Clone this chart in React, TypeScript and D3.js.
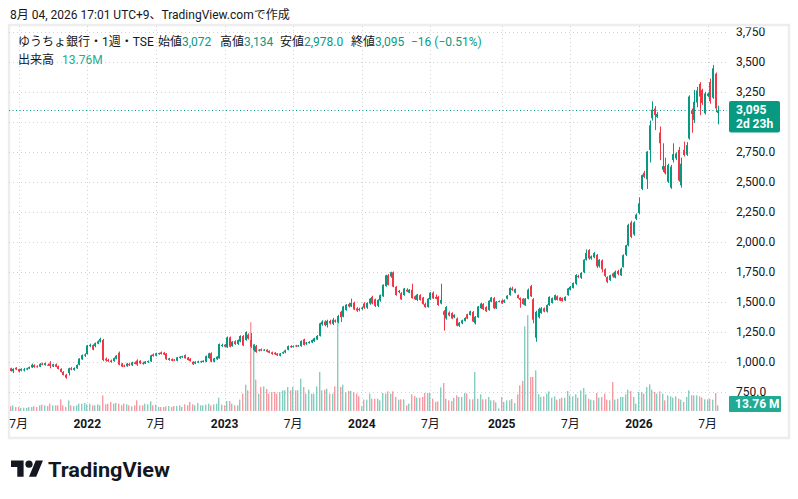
import React from 'react';
import * as d3 from 'd3';

// weekly bars, first bar is the week of 2021-06-14
const firstWeek = '2021-06-14';

// [open, high, low, close]
const candles: [number, number, number, number][] = [
  [945, 950, 918, 923], [920, 945, 905, 940], [950, 955, 930, 935], [938, 942, 910, 918],
  [925, 945, 920, 940], [932, 948, 918, 936], [935, 950, 930, 945], [943, 960, 938, 955],
  [952, 985, 948, 975], [972, 978, 950, 955], [962, 970, 952, 958], [958, 988, 955, 982],
  [985, 992, 970, 975], [972, 992, 968, 988], [975, 985, 965, 970], [985, 1005, 945, 965],
  [960, 982, 955, 978], [978, 985, 955, 958], [962, 968, 935, 940], [940, 945, 910, 915],
  [915, 920, 885, 890], [892, 898, 858, 866], [905, 950, 885, 945], [945, 955, 928, 935],
  [932, 952, 925, 948], [945, 978, 940, 972], [975, 1030, 970, 1025], [1020, 1060, 1015, 1055],
  [1050, 1070, 1040, 1060], [1065, 1140, 1060, 1135], [1130, 1150, 1120, 1140], [1138, 1145, 1095, 1100],
  [1130, 1160, 1120, 1155], [1150, 1178, 1145, 1170], [1168, 1200, 1160, 1190], [1180, 1190, 1005, 1015],
  [1025, 1035, 1000, 1010], [1015, 1025, 998, 1005], [1010, 1018, 990, 998], [1005, 1035, 1000, 1030],
  [1025, 1055, 1020, 1050], [1075, 1085, 970, 975], [985, 990, 955, 960], [968, 975, 955, 962],
  [962, 990, 958, 985], [980, 988, 965, 970], [970, 1000, 965, 995], [995, 1002, 978, 982],
  [1010, 1020, 965, 975], [1008, 1012, 980, 986], [990, 1000, 975, 982], [984, 1005, 980, 1002],
  [995, 1010, 990, 1006], [1002, 1058, 998, 1053], [1061, 1068, 1042, 1047], [1050, 1075, 1045, 1070],
  [1064, 1075, 1058, 1071], [1078, 1085, 1060, 1064], [1075, 1080, 1055, 1060], [1068, 1072, 1015, 1020],
  [1015, 1032, 1008, 1028], [1022, 1028, 1004, 1008], [1018, 1022, 1005, 1010], [1008, 1040, 1004, 1036],
  [1030, 1046, 1025, 1042], [1038, 1050, 1032, 1045], [1055, 1060, 1025, 1028], [1035, 1040, 1010, 1014],
  [1025, 1030, 1000, 1005], [1000, 1003, 972, 978], [985, 1003, 980, 1000], [992, 1008, 988, 1003],
  [996, 1008, 992, 1003], [998, 1012, 994, 1008], [1000, 1052, 996, 1047], [1030, 1075, 1025, 1070],
  [1070, 1078, 995, 1000], [1000, 1032, 995, 1028], [1020, 1046, 1015, 1042], [1028, 1152, 1025, 1147],
  [1130, 1150, 1122, 1140], [1142, 1148, 1118, 1125], [1120, 1210, 1115, 1203], [1203, 1210, 1120, 1125],
  [1130, 1172, 1125, 1167], [1170, 1178, 1140, 1147], [1148, 1185, 1140, 1180], [1168, 1220, 1162, 1214],
  [1214, 1222, 1130, 1136], [1180, 1253, 1175, 1247], [1225, 1235, 1185, 1192], [1180, 1240, 1115, 1125],
  [1097, 1145, 1085, 1139], [1130, 1140, 1075, 1080], [1092, 1105, 1085, 1100], [1103, 1110, 1088, 1092],
  [1095, 1105, 1090, 1100], [1100, 1104, 1078, 1083], [1090, 1094, 1070, 1075], [1078, 1084, 1058, 1064],
  [1075, 1080, 1056, 1062], [1068, 1072, 1048, 1053], [1050, 1072, 1045, 1068], [1070, 1085, 1065, 1080],
  [1078, 1100, 1070, 1095], [1100, 1135, 1095, 1130], [1130, 1138, 1115, 1120], [1122, 1135, 1118, 1130],
  [1135, 1140, 1122, 1128], [1128, 1140, 1124, 1135], [1130, 1178, 1125, 1172], [1186, 1192, 1135, 1140],
  [1150, 1165, 1140, 1160], [1155, 1172, 1150, 1165], [1160, 1185, 1155, 1180], [1170, 1200, 1165, 1195],
  [1185, 1222, 1180, 1215], [1215, 1325, 1210, 1320], [1310, 1345, 1300, 1335], [1335, 1345, 1295, 1305],
  [1305, 1350, 1285, 1340], [1340, 1350, 1310, 1320], [1315, 1365, 1305, 1350], [1345, 1352, 1325, 1333],
  [1330, 1390, 1320, 1380], [1415, 1425, 1330, 1370], [1375, 1465, 1370, 1460], [1430, 1480, 1425, 1475],
  [1480, 1490, 1450, 1460], [1460, 1525, 1455, 1490], [1490, 1500, 1430, 1435], [1445, 1455, 1415, 1425],
  [1440, 1450, 1420, 1430], [1440, 1458, 1430, 1450], [1485, 1495, 1440, 1450], [1450, 1495, 1440, 1490],
  [1485, 1530, 1475, 1525], [1540, 1550, 1478, 1485], [1520, 1525, 1455, 1465], [1465, 1520, 1455, 1515],
  [1510, 1560, 1500, 1555], [1545, 1645, 1540, 1640], [1630, 1725, 1625, 1720], [1720, 1730, 1635, 1640],
  [1710, 1750, 1700, 1745], [1745, 1752, 1620, 1625], [1625, 1630, 1550, 1555], [1580, 1598, 1570, 1590],
  [1570, 1580, 1515, 1520], [1555, 1615, 1550, 1610], [1600, 1612, 1580, 1585], [1575, 1605, 1570, 1600],
  [1600, 1650, 1525, 1530], [1545, 1552, 1515, 1520], [1515, 1565, 1505, 1560], [1555, 1562, 1510, 1515],
  [1535, 1540, 1475, 1480], [1480, 1490, 1450, 1455], [1455, 1530, 1450, 1525], [1520, 1580, 1515, 1575],
  [1575, 1585, 1522, 1528], [1540, 1560, 1520, 1525], [1540, 1548, 1465, 1472], [1485, 1650, 1478, 1515],
  [1420, 1430, 1260, 1390], [1360, 1465, 1350, 1455], [1410, 1420, 1378, 1385], [1405, 1412, 1355, 1360],
  [1370, 1395, 1362, 1390], [1360, 1368, 1295, 1300], [1300, 1330, 1290, 1325], [1320, 1350, 1312, 1345],
  [1340, 1370, 1335, 1365], [1395, 1400, 1355, 1360], [1390, 1425, 1385, 1420], [1415, 1422, 1330, 1335],
  [1320, 1380, 1310, 1375], [1370, 1465, 1365, 1460], [1445, 1490, 1440, 1485], [1480, 1488, 1430, 1437],
  [1455, 1462, 1415, 1420], [1430, 1512, 1425, 1508], [1500, 1540, 1495, 1535], [1530, 1538, 1440, 1445],
  [1445, 1505, 1440, 1500], [1500, 1510, 1495, 1505], [1510, 1520, 1480, 1485], [1495, 1518, 1490, 1512],
  [1525, 1555, 1520, 1550], [1555, 1620, 1550, 1615], [1610, 1625, 1590, 1598], [1575, 1610, 1570, 1605],
  [1555, 1560, 1525, 1530], [1530, 1535, 1450, 1515], [1525, 1530, 1475, 1480], [1470, 1530, 1465, 1525],
  [1525, 1610, 1520, 1600], [1630, 1640, 1540, 1545], [1520, 1530, 1320, 1350], [1200, 1425, 1166, 1415],
  [1370, 1450, 1360, 1440], [1405, 1455, 1400, 1445], [1445, 1452, 1412, 1418], [1418, 1478, 1410, 1472],
  [1472, 1545, 1465, 1540], [1490, 1535, 1485, 1530], [1515, 1560, 1510, 1555], [1545, 1552, 1510, 1515],
  [1535, 1540, 1505, 1510], [1530, 1535, 1500, 1505], [1510, 1545, 1505, 1540], [1555, 1615, 1550, 1610],
  [1600, 1630, 1595, 1625], [1615, 1660, 1610, 1655], [1650, 1730, 1640, 1722], [1715, 1725, 1695, 1705],
  [1700, 1748, 1690, 1740], [1745, 1855, 1738, 1850], [1850, 1936, 1842, 1905], [1930, 1938, 1850, 1860],
  [1860, 1885, 1850, 1878], [1870, 1915, 1862, 1905], [1890, 1898, 1780, 1795], [1795, 1855, 1785, 1850],
  [1845, 1852, 1745, 1770], [1770, 1778, 1705, 1715], [1705, 1712, 1655, 1665], [1680, 1725, 1672, 1720],
  [1735, 1742, 1700, 1710], [1700, 1760, 1695, 1750], [1755, 1765, 1720, 1730], [1720, 1785, 1715, 1775],
  [1790, 1895, 1785, 1888], [1890, 1975, 1880, 1970], [1970, 2150, 1960, 2140], [2160, 2175, 2030, 2040],
  [2060, 2170, 2050, 2160], [2190, 2235, 2180, 2225], [2240, 2370, 2230, 2320], [2440, 2560, 2430, 2555],
  [2575, 2590, 2530, 2540], [2520, 2755, 2440, 2750], [2765, 3010, 2660, 2970], [3030, 3170, 3010, 3100],
  [3110, 3130, 2930, 3055], [3040, 3080, 3030, 3065], [2910, 2960, 2680, 2820], [2600, 2820, 2580, 2630],
  [2630, 2700, 2560, 2570], [2500, 2650, 2490, 2640], [2450, 2640, 2440, 2625], [2680, 2820, 2660, 2730],
  [2695, 2745, 2680, 2735], [2765, 2790, 2500, 2510], [2470, 2700, 2450, 2650], [2765, 2835, 2710, 2722],
  [2725, 2830, 2715, 2805], [2860, 3220, 2850, 3210], [3092, 3110, 2908, 3064], [3015, 3265, 2990, 3165],
  [3160, 3290, 3120, 3260], [3315, 3330, 3055, 3210], [3265, 3275, 3140, 3155], [3070, 3250, 3060, 3235],
  [3215, 3245, 3205, 3235], [3330, 3360, 3150, 3170], [3200, 3472, 3190, 3445], [3400, 3410, 3080, 3111],
  [3072, 3134, 2978, 3095],
];

// weekly volume, millions of shares
const volumes: number[] = [
  11.2, 13.7, 9.6, 9.6, 7.2, 8.0, 7.2, 9.6, 9.6, 11.2,
  9.6, 13.7, 15.3, 13.7, 12.0, 17.7, 13.7, 13.7, 13.7, 28.1,
  13.7, 9.6, 25.7, 13.7, 12.0, 13.7, 17.7, 17.7, 19.3, 16.1,
  17.7, 13.7, 13.7, 16.1, 13.7, 37.7, 16.1, 17.7, 21.7, 17.7,
  19.3, 17.7, 13.7, 17.7, 16.1, 13.7, 11.2, 13.7, 25.7, 13.7,
  13.7, 17.7, 16.1, 23.3, 13.7, 15.3, 9.6, 9.6, 9.6, 11.2,
  12.0, 9.6, 12.0, 12.0, 13.7, 9.6, 16.1, 13.7, 21.7, 16.1,
  13.7, 19.3, 13.7, 13.7, 15.3, 17.7, 13.7, 16.1, 17.7, 32.1,
  15.3, 13.7, 24.1, 24.1, 17.7, 13.7, 13.7, 27.3, 41.8, 63.4,
  49.8, 214, 162, 75.5, 41.8, 57.8, 59.4, 53.0, 41.8, 45.8,
  45.8, 41.8, 45.8, 49.8, 49.8, 57.8, 49.8, 57.8, 49.8, 49.8,
  77.9, 57.8, 41.8, 51.4, 41.8, 41.8, 59.4, 94, 49.8, 51.4,
  53.8, 41.8, 41.8, 59.4, 226, 57.8, 63.4, 45.8, 48.2, 48.2,
  45.8, 41.8, 35.3, 11.2, 27.3, 27.3, 41.8, 29.7, 29.7, 29.7,
  25.7, 43.4, 41.8, 47.4, 41.8, 47.4, 33.7, 27.3, 28.1, 28.1,
  13.7, 17.7, 40.2, 36.1, 32.1, 32.1, 33.7, 43.4, 43.4, 43.4,
  29.7, 21.7, 23.3, 57.0, 67.5, 29.7, 25.7, 24.1, 31.3, 37.7,
  33.7, 33.7, 43.4, 41.8, 28.1, 28.1, 94, 29.7, 40.2, 28.1,
  28.1, 33.7, 25.7, 25.7, 20.9, 6.4, 33.7, 21.7, 25.7, 25.7,
  28.9, 19.3, 40.2, 61.8, 72.3, 204, 231, 81.9, 81.9, 98.0,
  40.2, 33.7, 35.3, 41.8, 47.4, 32.1, 35.3, 27.3, 29.7, 32.1,
  32.1, 48.2, 37.7, 35.3, 40.2, 32.1, 49.8, 55.4, 40.2, 29.7,
  27.3, 25.7, 43.4, 32.1, 33.7, 41.8, 27.3, 25.7, 69.9, 27.3,
  29.7, 33.7, 33.7, 40.2, 51.4, 48.2, 33.7, 17.7, 45.8, 45.8,
  41.8, 57.8, 64.2, 51.4, 45.8, 41.8, 47.4, 41.8, 25.7, 37.7,
  35.3, 32.1, 35.3, 29.7, 27.3, 21.7, 33.7, 49.8, 37.7, 37.7,
  37.7, 35.3, 32.1, 28.1, 28.1, 29.7, 27.3, 43.4, 13.76,
];

const priceTicks = [750, 1000, 1250, 1500, 1750, 2000, 2250, 2500, 2750, 3000, 3250, 3500, 3750];
const priceTickLabels = [
  '750.0', '1,000.0', '1,250.0', '1,500.0', '1,750.0', '2,000.0', '2,250.0',
  '2,500.0', '2,750.0', '3,000.0', '3,250', '3,500', '3,750',
];

const timeTicks = [
  '2021-07-05', '2022-01-03', '2022-07-04', '2023-01-02', '2023-07-03', '2024-01-01',
  '2024-07-01', '2025-01-06', '2025-07-07', '2026-01-05', '2026-07-06',
];
const timeTickLabels = ['7月', '2022', '7月', '2023', '7月', '2024', '7月', '2025', '7月', '2026', '7月'];

const headerText = '8月 04, 2026 17:01 UTC+9、TradingView.comで作成';
const symbolText = 'ゆうちょ銀行・1週・TSE';
const legendNames = ['始値', '高値', '安値', '終値'];
const legendValues = ['3,072', '3,134', '2,978.0', '3,095'];
const legendX = [158, 220, 280, 351];
const changeText = '−16 (−0.51%)';
const volumeName = '出来高';
const volumeText = '13.76M';
const lastPriceText = '3,095';
const countdownText = '2d 23h';
const lastVolumeText = '13.76 M';

const UP = '#089981';
const DOWN = '#f23645';
const UP_VOL = '#86cdc1';
const DOWN_VOL = '#f79aa2';
const TEXT = '#131722';
const FONT = "Roboto, 'Noto Sans CJK JP', sans-serif";

const plot = { left: 9, right: 727, top: 26, bottom: 413 };

const App: React.FC = () => {
  const parse = d3.timeParse('%Y-%m-%d');
  const start = parse(firstWeek)!;
  const dates = candles.map((_, i) => d3.timeDay.offset(start, i * 7));

  const x = d3.scaleTime()
    .domain([dates[0], dates[dates.length - 1]])
    .range([10.7, 718.2]);

  const y = d3.scaleLinear()
    .domain([1000, 3500])
    .range([361.7, 61.7]);

  const vMax = d3.max(volumes)!;
  const yVol = d3.scaleLinear()
    .domain([0, vMax])
    .range([411, 411 - vMax / 2.41]);

  const last = candles[candles.length - 1];
  const lastY = y(last[3]);

  return (
    <svg
      width={798}
      height={499}
      style={{ position: 'absolute', left: 0, top: 0, background: '#fff' }}
      fontFamily={FONT}
    >
      <defs>
        <clipPath id="plot">
          <rect x={plot.left} y={plot.top} width={plot.right - plot.left} height={plot.bottom - plot.top} />
        </clipPath>
        <clipPath id="axis">
          <rect x={plot.right} y={27.5} width={62} height={plot.bottom - 27.5} />
        </clipPath>
      </defs>

      <text x={10} y={15} dy="0.35em" fontSize={12} fill={TEXT}>{headerText}</text>

      {/* panel frame */}
      <rect x={9} y={25} width={780} height={413} fill="none" stroke="#ededed" strokeWidth={2.5} />

      {/* grid */}
      <g stroke="#cfd2d8" strokeWidth={1} strokeDasharray="1 3">
        {priceTicks.map(p => (
          <line key={p} x1={plot.left} x2={plot.right} y1={Math.round(y(p)) + 0.5} y2={Math.round(y(p)) + 0.5} />
        ))}
        {timeTicks.map(t => {
          const gx = Math.round(x(parse(t)!)) + 0.5;
          return <line key={t} x1={gx} x2={gx} y1={plot.top} y2={plot.bottom} />;
        })}
      </g>

      <g clipPath="url(#plot)">
        {/* volume */}
        {volumes.map((v, i) => {
          const [o, , , c] = candles[i];
          const px = Math.round(x(dates[i]));
          return (
            <rect key={i} x={px - 1} y={yVol(v)} width={1.4} height={yVol(0) - yVol(v)}
              fill={c >= o ? UP_VOL : DOWN_VOL} />
          );
        })}

        {/* candles */}
        {candles.map(([o, h, l, c], i) => {
          const px = Math.round(x(dates[i]));
          const col = c >= o ? UP : DOWN;
          const top = y(Math.max(o, c));
          const bh = Math.max(1, Math.abs(y(o) - y(c)));
          return (
            <g key={i} fill={col}>
              <rect x={px} y={y(h)} width={1} height={y(l) - y(h)} />
              <rect x={px - 1} y={top} width={2} height={bh} />
            </g>
          );
        })}

        {/* last price line */}
        <line x1={plot.left} x2={plot.right} y1={Math.round(lastY) + 0.5} y2={Math.round(lastY) + 0.5}
          stroke={UP} strokeWidth={1} strokeDasharray="1 2.5" />
      </g>

      {/* price axis */}
      <g clipPath="url(#axis)" fontSize={12} fill={TEXT}>
        {priceTicks.map((p, i) => (
          <text key={p} x={736} y={y(p)} dy="0.35em">{priceTickLabels[i]}</text>
        ))}
      </g>

      {/* last price label */}
      <rect x={729} y={101} width={51} height={31.5} rx={2} fill={UP} />
      <text x={736} y={110} dy="0.35em" fontSize={12} fontWeight={700} fill="#fff">{lastPriceText}</text>
      <text x={736} y={124} dy="0.35em" fontSize={12} fontWeight={700} fill="#fff">{countdownText}</text>

      {/* last volume label */}
      <rect x={729} y={396} width={52} height={16} rx={1} fill="#22ab94" />
      <text x={735} y={404} dy="0.35em" fontSize={12} fontWeight={700} fill="#fff">{lastVolumeText}</text>

      {/* time axis */}
      <g fontSize={12} fill={TEXT} textAnchor="middle">
        {timeTicks.map((t, i) => {
          const lab = timeTickLabels[i];
          const isYear = /^\d{4}$/.test(lab);
          return (
            <text key={t} x={x(parse(t)!)} y={424} dy="0.35em" fontWeight={isYear ? 700 : 400}>{lab}</text>
          );
        })}
      </g>

      {/* legend */}
      <g fontSize={12}>
        <text x={18} y={42} dy="0.35em" fill={TEXT}>{symbolText}</text>
        {legendNames.map((n, i) => (
          <text key={n} x={legendX[i]} y={42} dy="0.35em" fill={TEXT}>
            {n}<tspan fill={UP}>{legendValues[i]}</tspan>
          </text>
        ))}
        <text x={411} y={42} dy="0.35em" fill={UP}>{changeText}</text>
        <text x={18} y={60} dy="0.35em" fill={TEXT}>{volumeName}</text>
        <text x={62} y={60} dy="0.35em" fill="#22ab94">{volumeText}</text>
      </g>

      {/* logo */}
      <g transform="translate(11,457) scale(0.9)" fill={TEXT}>
        <path d="M14 22H7V11H0V4h14v18zM28 22h-8l7.5-18h8L28 22z" />
        <circle cx={20} cy={8} r={4} />
      </g>
      <text x={48} y={476.5} fontSize={21} fontWeight={700} fill={TEXT} textLength={122}
        lengthAdjust="spacingAndGlyphs">TradingView</text>
    </svg>
  );
};

export default App;
